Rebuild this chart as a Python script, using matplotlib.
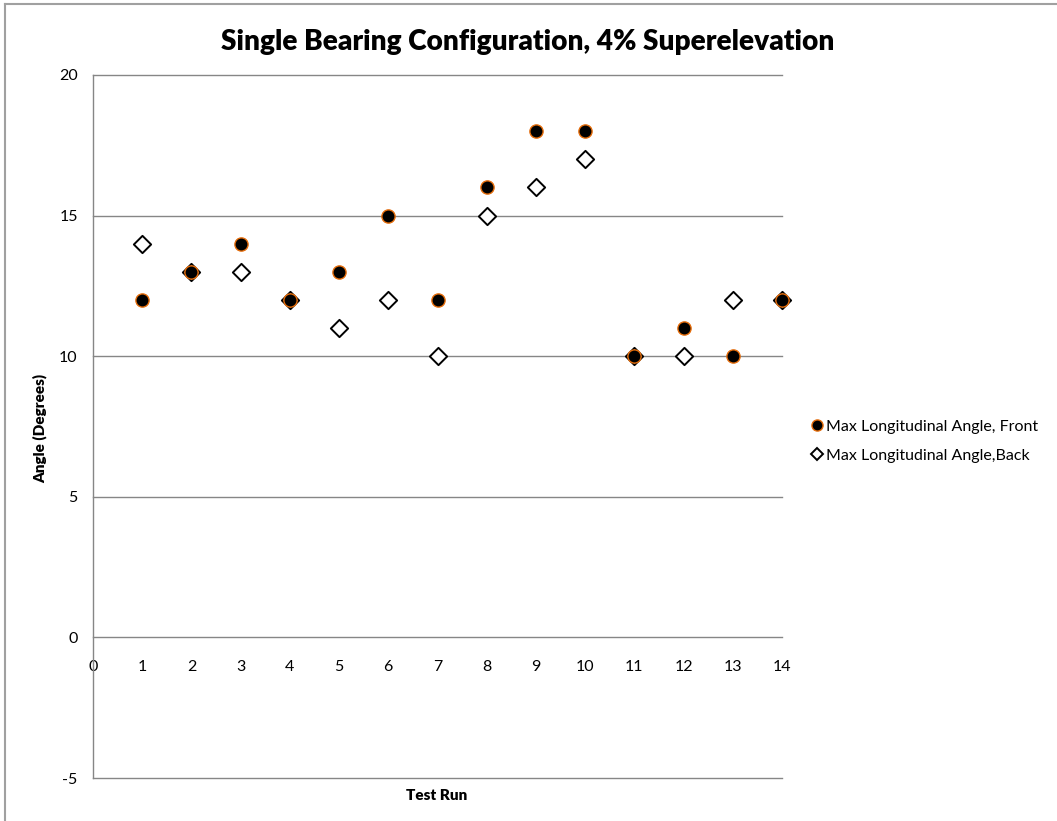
import matplotlib
matplotlib.use("Agg")
import matplotlib.pyplot as plt
from matplotlib.lines import Line2D

plt.rcParams['font.family'] = ['Lato', 'DejaVu Sans']
plt.rcParams['axes.unicode_minus'] = False

runs = [1, 2, 3, 4, 5, 6, 7, 8, 9, 10, 11, 12, 13, 14]
front = [12, 13, 14, 12, 13, 15, 12, 16, 18, 18, 10, 11, 10, 12]
back = [14, 13, 13, 12, 11, 12, 10, 15, 16, 17, 10, 10, 12, 12]
x_ticks = list(range(0, 15))
y_ticks = [-5, 0, 5, 10, 15, 20]
title = "Single Bearing Configuration, 4% Superelevation"
label_front = "Max Longitudinal Angle, Front"
label_back = "Max Longitudinal Angle,Back"

W, H = 1057, 821
fig = plt.figure(figsize=(W / 100, H / 100), dpi=100)
ax = fig.add_axes([93 / W, 1 - 778 / H, (782 - 93) / W, (778 - 75) / H])

grid_c = "#868686"
ax.set_xlim(0, 14)
ax.set_ylim(-5, 20)
ax.set_yticks(y_ticks)
ax.set_xticks(x_ticks)
for yv in y_ticks:
    if yv != 0:
        ax.axhline(yv, color=grid_c, lw=1.0, zorder=1, clip_on=False)

for s in ['top', 'right']:
    ax.spines[s].set_visible(False)
ax.spines['left'].set_color(grid_c)
ax.spines['left'].set_linewidth(1.0)
ax.spines['bottom'].set_position(('data', 0))
ax.spines['bottom'].set_color(grid_c)
ax.spines['bottom'].set_linewidth(1.0)
ax.tick_params(axis='x', length=0, pad=16, labelsize=11.5, colors='black')
ax.tick_params(axis='y', length=0, pad=11, labelsize=11.5, colors='black')

ax.scatter(runs, back, marker='D', s=8.8**2, facecolor='white', edgecolor='black',
           linewidth=1.4, zorder=3, clip_on=False)
ax.scatter(runs, front, marker='o', s=9.5**2, facecolor='black', edgecolor='#E46C0A',
           linewidth=1.0, zorder=4, clip_on=False)

fig.text(0.4995, 1 - 42 / H, title, ha='center', va='center', fontsize=20.2, fontweight='heavy')
fig.text(40 / W, 1 - 428 / H, "Angle (Degrees)", rotation=90, ha='center', va='center',
         fontsize=11, fontweight='heavy')
fig.text(437 / W, 1 - 795 / H, "Test Run", ha='center', va='center', fontsize=11,
         fontweight='heavy')

handles = [
    Line2D([], [], marker='o', linestyle='none', markersize=8, markerfacecolor='black',
           markeredgecolor='#E46C0A', markeredgewidth=1.0),
    Line2D([], [], marker='D', linestyle='none', markersize=6.5, markerfacecolor='white',
           markeredgecolor='black', markeredgewidth=1.4),
]
fig.legend(handles, [label_front, label_back], loc='upper left',
           bbox_to_anchor=(803 / W, 1 - 413 / H), frameon=False, fontsize=11.5,
           handletextpad=0.05, handlelength=1.0, labelspacing=0.95, borderaxespad=0)

# outer chart frame (top and left edges visible)
fig.add_artist(Line2D([5 / W, 1.0], [1 - 4 / H, 1 - 4 / H], color='#A0A0A0', lw=1.5,
                      transform=fig.transFigure))
fig.add_artist(Line2D([5 / W, 5 / W], [1 - 4 / H, 0.0], color='#A0A0A0', lw=1.5,
                      transform=fig.transFigure))

fig.savefig("out.png", dpi=100, facecolor='white')
